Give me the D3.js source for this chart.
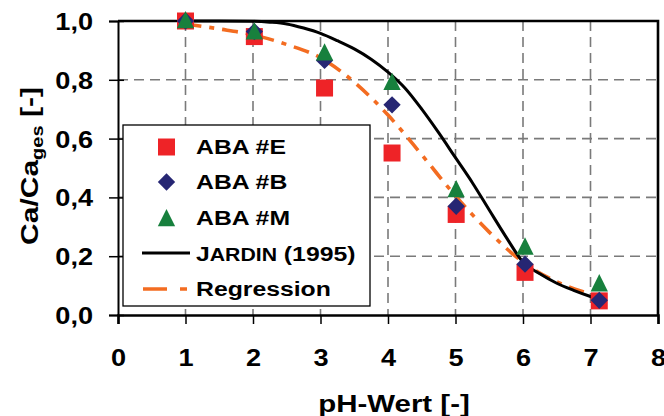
<!DOCTYPE html>
<html><head><meta charset="utf-8">
<script src="https://cdn.jsdelivr.net/npm/d3@7/dist/d3.min.js"></script>
<style>
body{margin:0;background:#fff}
text{font-family:"Liberation Sans",Arial,sans-serif;font-weight:bold;fill:#000}
</style>
</head><body>
<svg id="c" width="664" height="416"></svg>
<script>
// ---- data ----
const phPoints = [1.0, 2.02, 3.06, 4.06, 5.01, 6.03, 7.13];
const abaE = [1.0, 0.947, 0.772, 0.551, 0.342, 0.145, 0.048];
const abaB = [1.0, 0.964, 0.866, 0.715, 0.370, 0.173, 0.050];
const abaM = [1.0, 0.962, 0.890, 0.790, 0.425, 0.230, 0.105];
const jardinPh  = [1, 1.5, 2, 2.25, 2.5, 2.75, 3, 3.25, 3.5, 3.75, 4, 4.25, 4.5, 4.75, 5, 5.25, 5.5, 5.75, 6, 6.25, 6.5, 6.75, 7, 7.12];
const jardinVal = [1.0, 1.0, 0.999, 0.996, 0.990, 0.976, 0.958, 0.933, 0.905, 0.870, 0.826, 0.772, 0.700, 0.620, 0.535, 0.450, 0.357, 0.265, 0.180, 0.140, 0.108, 0.084, 0.063, 0.054];
const regPh  = [1, 1.5, 2, 2.5, 3, 3.5, 4, 4.5, 5, 5.5, 6, 6.5, 6.9];
const regVal = [0.99, 0.973, 0.953, 0.920, 0.875, 0.792, 0.680, 0.545, 0.405, 0.282, 0.180, 0.113, 0.078];
const xTicks = [0, 1, 2, 3, 4, 5, 6, 7, 8];
const yTicks = [0, 0.2, 0.4, 0.6, 0.8, 1.0];
const legendLabels = ["ABA #E", "ABA #B", "ABA #M", "JARDIN (1995)", "Regression"];
const xTitle = "pH-Wert [-]";

// ---- drawing ----
const C = {red:"#EE2327", navy:"#262673", green:"#17803D", orange:"#F36C21", grid:"#7a7a7a"};
const svg = d3.select("#c");
const x = d3.scaleLinear().domain([0, 8]).range([118, 658]);
const y = d3.scaleLinear().domain([0, 1]).range([315, 21]);
const SX = 1.18;

// grid
const grid = svg.append("g");
grid.selectAll("line.v").data(xTicks.slice(1, -1)).join("line")
  .attr("x1", d => x(d)).attr("x2", d => x(d)).attr("y1", y(1)).attr("y2", y(0))
  .attr("stroke", C.grid).attr("stroke-width", 1.6).attr("stroke-dasharray", "10,6");
grid.selectAll("line.h").data(yTicks.slice(1, -1)).join("line")
  .attr("x1", x(0)).attr("x2", x(8)).attr("y1", d => y(d)).attr("y2", d => y(d))
  .attr("stroke", C.grid).attr("stroke-width", 1.6).attr("stroke-dasharray", "10,6");

// frame top/right
svg.append("path").attr("d", `M${x(0)},${y(1)}H${x(8)}V${y(0)}`)
  .attr("fill", "none").attr("stroke", "#000").attr("stroke-width", 2.6);

// axes
const fmt = d3.format(".1f");
const gx = svg.append("g").attr("transform", `translate(0,${y(0)})`)
  .call(d3.axisBottom(x).tickValues(xTicks).tickSizeOuter(0).tickSize(9).tickPadding(5));
gx.select(".domain").attr("stroke", "#000").attr("stroke-width", 2.6);
gx.selectAll(".tick line").attr("stroke", "#000").attr("stroke-width", 1.5);
gx.selectAll(".tick text").attr("font-size", 23).attr("font-family", null)
  .attr("y", 51).attr("dy", 0).attr("transform", `scale(${SX},1)`);

const gy = svg.append("g").attr("transform", `translate(${x(0)},0)`)
  .call(d3.axisLeft(y).tickValues(yTicks).tickSizeOuter(0).tickSize(9)
        .tickFormat(d => fmt(d).replace(".", ",")));
gy.select(".domain").attr("stroke", "#000").attr("stroke-width", 2);
gy.selectAll(".tick line").attr("stroke", "#000").attr("stroke-width", 1.5).attr("x1", 6);
gy.selectAll(".tick text").attr("font-size", 23).attr("font-family", null)
  .attr("x", -25 / SX).attr("dy", 8.5).attr("transform", `scale(${SX},1)`);

// curves
const line = d3.line().x(d => x(d[0])).y(d => y(d[1])).curve(d3.curveMonotoneX);
svg.append("path").attr("d", line(d3.zip(regPh, regVal)))
  .attr("fill", "none").attr("stroke", C.orange).attr("stroke-width", 3.6)
  .attr("stroke-dasharray", "16,8,5,8");
svg.append("path").attr("d", line(d3.zip(jardinPh, jardinVal)))
  .attr("fill", "none").attr("stroke", "#000").attr("stroke-width", 3);

// symbols
const tri = {draw(ctx, size) { const h = Math.sqrt(size); ctx.moveTo(0, -h*0.58); ctx.lineTo(h*0.5, h*0.42); ctx.lineTo(-h*0.5, h*0.42); ctx.closePath(); }};
const sqPath = d3.symbol().type(d3.symbolSquare).size(289)();
const diaPath = d3.symbol().type(d3.symbolSquare).size(150)();
const triPath = d3.symbol().type(tri).size(300)();
function marks(vals, path, color, rot) {
  svg.append("g").selectAll("path").data(d3.zip(phPoints, vals)).join("path")
    .attr("d", path).attr("fill", color)
    .attr("transform", d => `translate(${x(d[0])},${y(d[1])})${rot ? " rotate(45)" : ""}`);
}
marks(abaE, sqPath, C.red, false);
marks(abaB, diaPath, C.navy, true);
marks(abaM, triPath, C.green, false);

// legend
const lg = svg.append("g");
lg.append("rect").attr("x", 123).attr("y", 125).attr("width", 247).attr("height", 181)
  .attr("fill", "#fff").attr("stroke", "#000").attr("stroke-width", 1.3);
const rows = [147, 182, 218, 254, 289];
const mx = 166.5, tx = 196;
lg.append("path").attr("d", sqPath).attr("fill", C.red).attr("transform", `translate(${mx},${rows[0]})`);
lg.append("path").attr("d", diaPath).attr("fill", C.navy).attr("transform", `translate(${mx},${rows[1]}) rotate(45)`);
lg.append("path").attr("d", triPath).attr("fill", C.green).attr("transform", `translate(${mx},${rows[2]+1})`);
lg.append("line").attr("x1", 142).attr("x2", 190).attr("y1", rows[3]-1).attr("y2", rows[3]-1)
  .attr("stroke", "#000").attr("stroke-width", 3);
lg.append("line").attr("x1", 143).attr("x2", 187).attr("y1", rows[4]).attr("y2", rows[4])
  .attr("stroke", C.orange).attr("stroke-width", 3.6).attr("stroke-dasharray", "24,13,7,13");

legendLabels.forEach((lab, i) => {
  const g = lg.append("g").attr("transform", `translate(${tx},${rows[i] + 7}) scale(${SX},1)`);
  const t = g.append("text").attr("font-size", 21);
  if (i === 3) {
    t.append("tspan").text(lab[0]);
    const rest = lab.slice(1).split(" ");
    t.append("tspan").attr("font-size", 18).text(rest[0]);
    t.append("tspan").text(" " + rest.slice(1).join(" "));
  } else {
    t.text(lab);
  }
});

// axis titles
svg.append("g").attr("transform", `translate(394,412) scale(1.28,1)`)
  .append("text").attr("text-anchor", "middle").attr("font-size", 23).text(xTitle);

const yt = svg.append("g").attr("transform", `translate(38,166) rotate(-90) scale(1.25,1)`)
  .append("text").attr("text-anchor", "middle").attr("font-size", 24);
yt.append("tspan").text("Ca/Ca");
yt.append("tspan").attr("font-size", 16).attr("dy", 5).text("ges");
yt.append("tspan").attr("dy", -5).text(" [-]");
</script>
</body></html>
